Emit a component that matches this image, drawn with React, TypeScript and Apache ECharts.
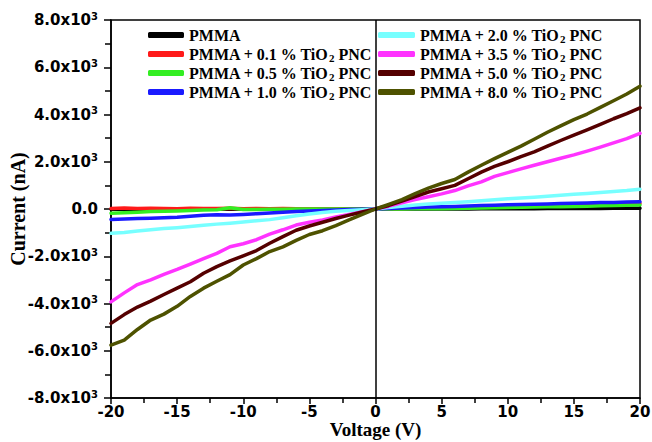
import React, { useEffect, useRef } from "react";
import * as echarts from "echarts";

const voltage = [-20,-19,-18,-17,-16,-15,-14,-13,-12,-11,-10,-9,-8,-7,-6,-5,-4,-3,-2,-1,0,1,2,3,4,5,6,7,8,9,10,11,12,13,14,15,16,17,18,19,20];

const pmma = [-10,0,-10,0,-10,0,-10,0,0,-10,0,0,-10,0,0,0,0,0,0,0,0,0,0,0,0,0,5,5,10,10,10,15,15,20,20,20,25,25,30,30,30];
const tio01 = [20,40,20,30,20,10,30,20,20,30,10,20,10,20,10,10,0,10,0,0,0,10,20,30,40,50,60,70,80,90,100,110,120,130,145,160,175,190,205,220,235];
const tio05 = [-180,-160,-140,-110,-90,-80,-60,-40,-30,50,-20,-20,-10,-10,0,0,0,0,0,0,0,0,5,10,10,15,20,30,40,50,60,70,80,90,100,110,120,135,145,160,170];
const tio10 = [-440,-420,-400,-390,-370,-350,-310,-260,-240,-250,-230,-200,-170,-140,-110,-80,-60,-40,-20,-10,0,20,40,60,80,100,110,130,150,160,180,190,200,210,230,240,250,270,280,300,310];
const tio20 = [-1030,-990,-930,-880,-830,-790,-740,-690,-640,-600,-550,-500,-450,-370,-290,-210,-150,-100,-60,-30,0,60,120,170,210,240,270,310,350,390,430,470,500,540,580,620,660,700,740,780,840];
const tio35 = [-3930,-3550,-3200,-3000,-2770,-2560,-2330,-2100,-1880,-1600,-1470,-1300,-1060,-880,-680,-560,-460,-340,-230,-110,0,120,260,400,520,640,780,980,1150,1380,1540,1700,1850,2000,2150,2290,2450,2620,2800,2980,3200];
const tio50 = [-4840,-4470,-4150,-3900,-3620,-3350,-3080,-2720,-2440,-2200,-1980,-1760,-1450,-1170,-900,-720,-560,-400,-260,-130,0,150,330,530,720,860,1000,1280,1560,1800,2000,2220,2420,2660,2900,3130,3350,3580,3820,4040,4280];
const tio80 = [-5760,-5550,-5100,-4700,-4450,-4120,-3700,-3350,-3060,-2780,-2370,-2100,-1800,-1600,-1330,-1080,-920,-700,-460,-230,0,200,400,650,880,1080,1250,1560,1850,2130,2400,2660,2950,3250,3520,3780,4020,4300,4580,4870,5200];

const seriesNames = [
  "PMMA",
  "PMMA + 0.1 % TiO2 PNC",
  "PMMA + 0.5 % TiO2 PNC",
  "PMMA + 1.0 % TiO2 PNC",
  "PMMA + 2.0 % TiO2 PNC",
  "PMMA + 3.5 % TiO2 PNC",
  "PMMA + 5.0 % TiO2 PNC",
  "PMMA + 8.0 % TiO2 PNC",
];
const seriesValues = [pmma, tio01, tio05, tio10, tio20, tio35, tio50, tio80];
const seriesColors = ["#000000", "#ff1a1a", "#33ee22", "#1a1aff", "#77ffff", "#ff33ff", "#550000", "#4e5200"];

const yTicks = { min: -8000, max: 8000, interval: 2000 };
const xTicks = { min: -20, max: 20, interval: 5 };

const SERIF = "'Liberation Serif', 'Times New Roman', serif";
const SANS = "'DejaVu Sans', Arial, sans-serif";

export default function App() {
  const ref = useRef<HTMLDivElement>(null);
  useEffect(() => {
    if (!ref.current) return;
    const chart = echarts.init(ref.current, undefined, { renderer: "svg" });
    const legendText = {
      fontFamily: SERIF,
      fontWeight: "bold" as const,
      fontSize: 16,
      color: "#000",
      lineHeight: 18,
      rich: {
        n: { fontFamily: SERIF, fontWeight: "bold", fontSize: 16, color: "#000", lineHeight: 18 },
        sub: { fontFamily: SERIF, fontWeight: "bold", fontSize: 11, color: "#000", lineHeight: 18, padding: [7, 0, 0, 0] },
      },
    };
    const legendFormatter = (name: string) => {
      if (name.indexOf("TiO2") >= 0) {
        const parts = name.split("TiO2");
        return `{n|${parts[0]}TiO}{sub|2}{n|${parts[1]}}`;
      }
      return `{n|${name}}`;
    };
    const axisLineStyle = { color: "#000", width: 1.5 };
    chart.setOption({
      animation: false,
      backgroundColor: "#fff",
      grid: {
        left: 111,
        right: 12,
        top: 20,
        bottom: 44,
        show: true,
        borderColor: "#000",
        borderWidth: 1.5,
        backgroundColor: "transparent",
        containLabel: false,
        outerBoundsMode: "none",
      },
      legend: [
        {
          data: seriesNames.slice(0, 4),
          orient: "vertical",
          left: 143,
          top: 21,
          itemWidth: 36,
          itemHeight: 6,
          itemGap: 1,
          icon: "roundRect",
          textStyle: legendText,
          formatter: legendFormatter,
        },
        {
          data: seriesNames.slice(4),
          orient: "vertical",
          left: 373,
          top: 21,
          itemWidth: 37,
          itemHeight: 6,
          itemGap: 1,
          icon: "roundRect",
          textStyle: legendText,
          formatter: legendFormatter,
        },
      ],
      xAxis: {
        type: "value",
        min: xTicks.min,
        max: xTicks.max,
        interval: xTicks.interval,
        name: "Voltage (V)",
        nameLocation: "middle",
        nameGap: 22,
        nameMoveOverlap: false,
        nameTextStyle: { fontFamily: SERIF, fontWeight: "bold", fontSize: 19, color: "#000" },
        axisLine: { onZero: false, lineStyle: axisLineStyle },
        axisTick: { inside: false, length: 6, lineStyle: axisLineStyle },
        minorTick: { show: true, splitNumber: 2, length: 5, lineStyle: axisLineStyle },
        splitLine: { show: false },
        axisLabel: { fontFamily: SANS, fontWeight: "bold", fontSize: 15, color: "#000", margin: 6 },
      },
      yAxis: {
        type: "value",
        min: yTicks.min,
        max: yTicks.max,
        interval: yTicks.interval,
        name: "Current (nA)",
        nameLocation: "middle",
        nameGap: 83,
        nameMoveOverlap: false,
        nameRotate: 90,
        nameTextStyle: { fontFamily: SERIF, fontWeight: "bold", fontSize: 20, color: "#000" },
        axisLine: { onZero: false, lineStyle: axisLineStyle },
        axisTick: { inside: false, length: 7, lineStyle: axisLineStyle },
        minorTick: { show: true, splitNumber: 2, length: 6, lineStyle: axisLineStyle },
        splitLine: { show: false },
        axisLabel: {
          fontFamily: SANS,
          fontWeight: "bold",
          fontSize: 15,
          color: "#000",
          margin: 13,
          formatter: (v: number) => (v === 0 ? "0.0" : `${(v / 1000).toFixed(1)}x10{sup|3}`),
          rich: {
            sup: { fontFamily: SANS, fontWeight: "bold", fontSize: 10, color: "#000", padding: [0, 0, 8, 0] },
          },
        },
      },
      series: seriesNames.map((name, i) => ({
        name,
        type: "line",
        data: voltage.map((v, j) => [v, seriesValues[i][j]]),
        showSymbol: false,
        symbol: "none",
        color: seriesColors[i],
        lineStyle: { width: 3.5, color: seriesColors[i], cap: "round", join: "round" },
        markLine:
          i === 0
            ? {
                silent: true,
                symbol: "none",
                label: { show: false },
                lineStyle: { color: "#000", width: 1.5, type: "solid" },
                data: [{ xAxis: 0 }],
              }
            : undefined,
      })),
    });
    return () => chart.dispose();
  }, []);
  return <div ref={ref} style={{ position: "fixed", left: 0, top: 0, width: 652, height: 442 }} />;
}
